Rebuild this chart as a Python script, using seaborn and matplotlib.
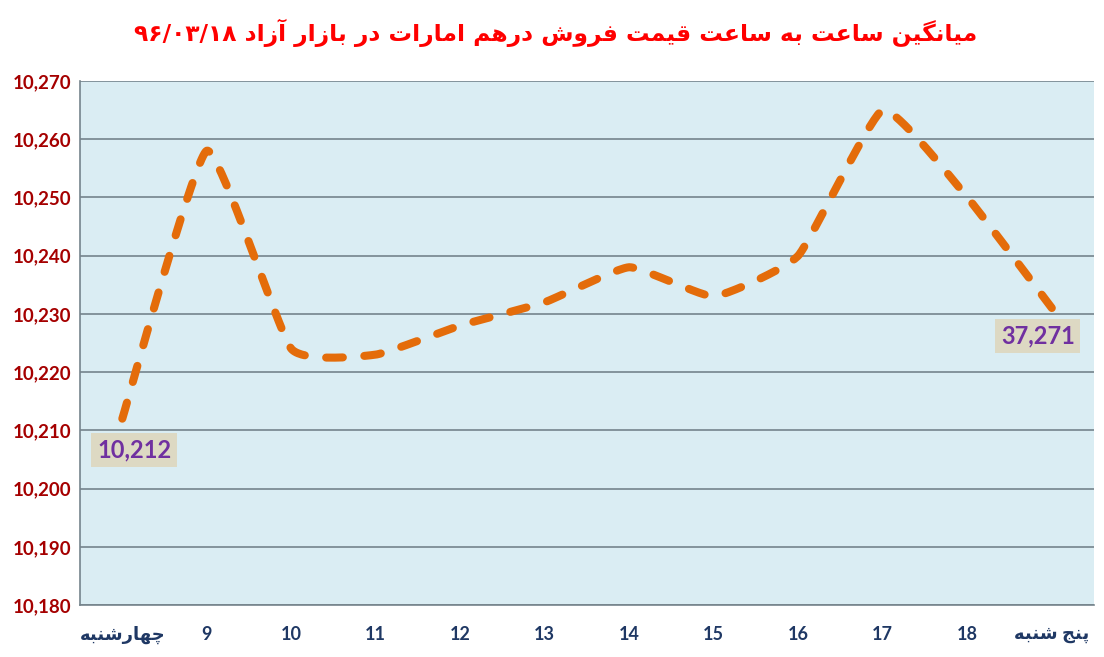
import numpy as np
import pandas as pd
import matplotlib
matplotlib.use("Agg")
import matplotlib.pyplot as plt
import seaborn as sns

# chart data
categories = ["چهارشنبه", "9", "10", "11", "12", "13", "14", "15", "16", "17", "18", "پنج شنبه"]
prices = [10212, 10258, 10224, 10223, 10228, 10232, 10238, 10233, 10240, 10265, 10250, 10231]
y_ticks = [10180, 10190, 10200, 10210, 10220, 10230, 10240, 10250, 10260, 10270]
label_idx = [0, 11]
label_text = ["10,212", "37,271"]
title = "میانگین ساعت به ساعت قیمت فروش درهم امارات در بازار آزاد ۹۶/۰۳/۱۸"

# arabic presentation forms: isolated, final, initial, medial
FORMS = {
    "ا": ("\uFE8D", "\uFE8E"), "آ": ("\uFE81", "\uFE82"),
    "د": ("\uFEA9", "\uFEAA"), "ر": ("\uFEAD", "\uFEAE"),
    "ز": ("\uFEAF", "\uFEB0"), "و": ("\uFEED", "\uFEEE"),
    "ب": ("\uFE8F", "\uFE90", "\uFE91", "\uFE92"),
    "ت": ("\uFE95", "\uFE96", "\uFE97", "\uFE98"),
    "ج": ("\uFE9D", "\uFE9E", "\uFE9F", "\uFEA0"),
    "س": ("\uFEB1", "\uFEB2", "\uFEB3", "\uFEB4"),
    "ش": ("\uFEB5", "\uFEB6", "\uFEB7", "\uFEB8"),
    "ع": ("\uFEC9", "\uFECA", "\uFECB", "\uFECC"),
    "ف": ("\uFED1", "\uFED2", "\uFED3", "\uFED4"),
    "ق": ("\uFED5", "\uFED6", "\uFED7", "\uFED8"),
    "م": ("\uFEE1", "\uFEE2", "\uFEE3", "\uFEE4"),
    "ن": ("\uFEE5", "\uFEE6", "\uFEE7", "\uFEE8"),
    "ه": ("\uFEE9", "\uFEEA", "\uFEEB", "\uFEEC"),
    "ی": ("\uFBFC", "\uFBFD", "\uFBFE", "\uFBFF"),
    "پ": ("\uFB56", "\uFB57", "\uFB58", "\uFB59"),
    "چ": ("\uFB7A", "\uFB7B", "\uFB7C", "\uFB7D"),
    "گ": ("\uFB92", "\uFB93", "\uFB94", "\uFB95"),
}


def shape_word(w):
    out = []
    for i, ch in enumerate(w):
        if ch not in FORMS:
            out.append(ch)
            continue
        prev = w[i - 1] if i > 0 else None
        nxt = w[i + 1] if i + 1 < len(w) else None
        join_prev = prev in FORMS and len(FORMS[prev]) == 4
        join_next = nxt in FORMS and len(FORMS[ch]) == 4
        f = FORMS[ch]
        if join_prev and join_next:
            out.append(f[3])
        elif join_prev:
            out.append(f[1])
        elif join_next:
            out.append(f[2])
        else:
            out.append(f[0])
    return "".join(out)


def rtl(text):
    # shape each word and lay words out right to left; digit runs stay LTR
    words = text.split(" ")
    vis = []
    for w in words:
        if any(ch in FORMS for ch in w):
            vis.append(shape_word(w)[::-1])
        else:
            vis.append(w)
    return " ".join(vis[::-1])


def smooth(xs, ys, k=0.07, n=40):
    # light bezier rounding at the vertices, like excel's smoothed line
    px = np.concatenate([[xs[0]], xs, [xs[-1]]])
    py = np.concatenate([[ys[0]], ys, [ys[-1]]])
    cx, cy = [], []
    t = np.linspace(0, 1, n)
    for i in range(1, len(px) - 2):
        p0 = np.array([px[i], py[i]])
        p3 = np.array([px[i + 1], py[i + 1]])
        p1 = p0 + (np.array([px[i + 1], py[i + 1]]) - np.array([px[i - 1], py[i - 1]])) * k
        p2 = p3 - (np.array([px[i + 2], py[i + 2]]) - np.array([px[i], py[i]])) * k
        b = ((1 - t) ** 3)[:, None] * p0 + (3 * (1 - t) ** 2 * t)[:, None] * p1 \
            + (3 * (1 - t) * t ** 2)[:, None] * p2 + (t ** 3)[:, None] * p3
        cx.extend(b[:, 0])
        cy.extend(b[:, 1])
    return np.array(cx), np.array(cy)


sns.set_style("white")
plt.rcParams["font.family"] = ["Lato", "DejaVu Sans"]

fig = plt.figure(figsize=(11.04, 6.57), dpi=100)
ax = fig.add_axes([0.0725, 0.079, 0.9185, 0.798])
ax.set_facecolor("#daedf3")

pos = np.arange(len(categories))
sx, sy = smooth(pos.astype(float), np.array(prices, dtype=float))
curve = pd.DataFrame({"x": sx, "y": sy})
lw = 5.8
sns.lineplot(data=curve, x="x", y="y", sort=False, ax=ax, color="#e46c0a",
             linewidth=lw)

ax.set_xlim(-0.5, len(categories) - 0.5)
ax.set_ylim(y_ticks[0], y_ticks[-1])

# stretch the dash pattern a little so the line starts and ends on a dash
on, off = 2.1, 2.7
xy = ax.transData.transform(np.c_[sx, sy])
length = np.hypot(*np.diff(xy, axis=0).T).sum()
unit = lw * fig.dpi / 72
m = round((length - on * unit) / ((on + off) * unit))
s = length / ((m * (on + off) + on) * unit)
ax.lines[0].set_dashes([on * s, off * s])
ax.lines[0].set_dash_capstyle("round")

ax.set_yticks(y_ticks)
ax.set_yticklabels([f"{v:,}" for v in y_ticks], color="#a50000",
                   fontsize=13.5, fontweight="bold")
ax.set_xticks(pos)
ax.set_xticklabels([rtl(c) for c in categories], color="#1f3864",
                   fontsize=13, fontweight="bold")
ax.tick_params(axis="both", length=0)
ax.tick_params(axis="x", pad=15)
ax.tick_params(axis="y", pad=6)
ax.grid(axis="y", color="#75848c", linewidth=1.2)
ax.set_axisbelow(True)
for sp in ["top", "right"]:
    ax.spines[sp].set_visible(False)
for sp in ["left", "bottom"]:
    ax.spines[sp].set_color("#75848c")
    ax.spines[sp].set_linewidth(1.2)
ax.set_xlabel("")
ax.set_ylabel("")

offsets = [(12, -31), (-14, -28)]
for i, txt, off_px in zip(label_idx, label_text, offsets):
    ax.annotate(txt, (pos[i], prices[i]), xytext=off_px, textcoords="offset pixels",
                ha="center", va="center", fontsize=17, fontweight="bold",
                color="#7030a0",
                bbox=dict(boxstyle="square,pad=0.24", fc="#ddd9c3", ec="none"))

fig.text(0.503, 0.95, rtl(title), ha="center", va="center", color="#ff0000",
         fontsize=16.8, fontweight="bold", family=["DejaVu Sans"])

fig.savefig("out.png", dpi=100, facecolor="white")
